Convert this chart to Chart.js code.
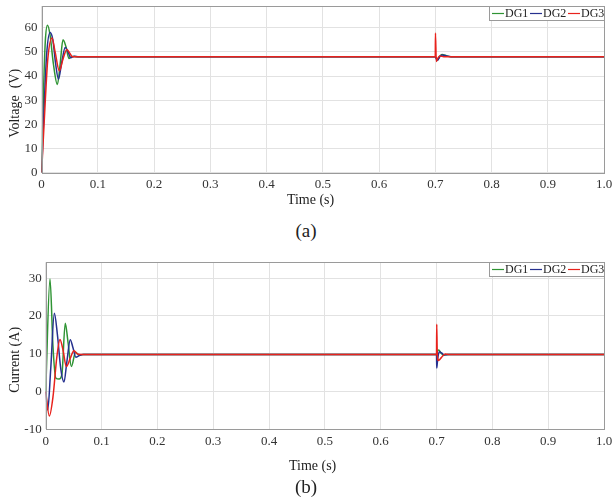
<!DOCTYPE html>
<html>
<head>
<meta charset="utf-8">
<script src="https://cdn.jsdelivr.net/npm/chart.js@4/dist/chart.umd.min.js"></script>
<style>
  body { margin: 0; background: #fff; }
  #wrap { position: relative; width: 616px; height: 499px; }
  canvas { position: absolute; left: 0; }
  .cap { position: absolute; left: 0; width: 616px; text-align: center;
         font-family: 'Liberation Serif', serif; font-size: 19px; line-height: 22px; color: #222; }
</style>
</head>
<body>
<div id="wrap">
  <canvas id="chartVolt" width="616" height="212" style="top:0"></canvas>
  <div class="cap" style="top:220px; left:-2px">(a)</div>
  <canvas id="chartCur" width="616" height="238" style="top:240px"></canvas>
  <div class="cap" style="top:476px; left:-2px">(b)</div>
</div>
<script>
// series names
let seriesNames = ['DG1', 'DG2', 'DG3'];

// (a) voltage, time in s / value in V
let dg1VoltT = [0, 0.003, 0.0065, 0.0105, 0.015, 0.021, 0.028, 0.033, 0.038, 0.0435, 0.0485, 0.054, 0.062, 0.7, 0.7015, 0.704, 0.708, 0.712, 0.72, 0.728, 1.0];
let dg1Volt  = [0, 30, 54, 61, 57, 45, 36.5, 45, 55, 52, 47.3, 48.1, 48, 48, 47.6, 46.8, 48.2, 48.9, 48.4, 48, 48];
let dg2VoltT = [0, 0.005, 0.009, 0.015, 0.02, 0.025, 0.03, 0.036, 0.042, 0.047, 0.052, 0.058, 0.066, 0.7, 0.7015, 0.704, 0.708, 0.712, 0.72, 0.728, 1.0];
let dg2Volt  = [0, 30, 49, 58, 55, 45, 38.7, 46, 51.8, 50, 47.6, 48.2, 48, 48, 47.3, 46.5, 48, 48.7, 48.3, 48, 48];
let dg3VoltT = [0, 0.0066, 0.011, 0.0185, 0.024, 0.0316, 0.038, 0.045, 0.05, 0.055, 0.062, 0.7, 0.7003, 0.7018, 0.704, 0.708, 0.715, 1.0];
let dg3Volt  = [0, 30, 47, 55.8, 50, 42.2, 47, 51, 49.5, 48, 48, 48, 57.8, 46, 47.2, 48.3, 48, 48];

// (b) current, time in s / value in A
let dg1CurT = [0, 0.0077, 0.013, 0.018, 0.024, 0.029, 0.035, 0.04, 0.046, 0.0535, 0.06, 0.068, 0.7, 0.7015, 0.704, 0.708, 0.713, 0.72, 1.0];
let dg1Cur  = [0, 29.8, 12, 3.6, 3.3, 4.5, 18.1, 13, 6.6, 10.4, 9.6, 9.8, 9.8, 10.6, 11, 10.2, 9.6, 9.8, 9.8];
let dg2CurT = [0, 0.0036, 0.009, 0.0155, 0.021, 0.027, 0.0327, 0.038, 0.044, 0.049, 0.054, 0.06, 0.066, 0.7, 0.7004, 0.702, 0.705, 0.709, 0.714, 0.722, 1.0];
let dg2Cur  = [0, -4.9, 6, 20.7, 15, 6, 2.5, 8, 13.7, 11.5, 9.1, 9.5, 9.8, 9.8, 6.2, 8.5, 10.5, 10.2, 9.7, 9.8, 9.8];
let dg3CurT = [0, 0.0065, 0.013, 0.02, 0.0256, 0.031, 0.037, 0.044, 0.0506, 0.056, 0.062, 0.7, 0.7004, 0.7012, 0.703, 0.7066, 0.711, 0.716, 0.722, 1.0];
let dg3Cur  = [0, -6.5, -1.5, 9.2, 13.8, 11, 6.6, 8.8, 10.8, 10, 9.8, 9.8, 17.8, 11, 8.2, 8.6, 9.4, 9.9, 9.8, 9.8];

let colors = ['#2f9434', '#26318f', '#e8221c'];

Chart.defaults.font.family = "'Liberation Serif', 'Times New Roman', serif";
Chart.defaults.color = '#333';

function toPoints(t, v) {
  return t.map((x, i) => ({x: x, y: v[i]}));
}

function makeSets(pairs) {
  return pairs.map((p, i) => ({
    label: seriesNames[i],
    data: toPoints(p[0], p[1]),
    borderColor: colors[i],
    backgroundColor: colors[i],
    borderWidth: 1.5,
    pointRadius: 0,
    cubicInterpolationMode: 'monotone',
    order: 2 - i
  }));
}

// box round the plot, drawn over the lines like matlab
let framePlugin = {
  id: 'frame',
  afterDatasetsDraw(chart) {
    let a = chart.chartArea, ctx = chart.ctx;
    ctx.save();
    ctx.strokeStyle = '#9a9a9a';
    ctx.lineWidth = 1;
    ctx.strokeRect(Math.round(a.left) + 0.5, Math.round(a.top) + 0.5,
      Math.round(a.right - a.left), Math.round(a.bottom - a.top));
    ctx.restore();
  }
};

// small boxed legend in the top right corner
let boxLegend = {
  id: 'boxLegend',
  afterDraw(chart) {
    let a = chart.chartArea, ctx = chart.ctx;
    let w = 115, h = 14;
    let x0 = Math.round(a.right) - w, y0 = Math.round(a.top);
    ctx.save();
    ctx.fillStyle = '#fff';
    ctx.fillRect(x0 + 0.5, y0 + 0.5, w, h);
    ctx.strokeStyle = '#9a9a9a';
    ctx.lineWidth = 1;
    ctx.strokeRect(x0 + 0.5, y0 + 0.5, w, h);
    ctx.font = "12px 'Liberation Serif'";
    ctx.textBaseline = 'middle';
    let x = x0 + 3;
    chart.data.datasets.forEach(ds => {
      ctx.strokeStyle = ds.borderColor;
      ctx.lineWidth = 1.2;
      ctx.beginPath();
      ctx.moveTo(x, y0 + h / 2 + 0.5);
      ctx.lineTo(x + 12, y0 + h / 2 + 0.5);
      ctx.stroke();
      ctx.fillStyle = '#222';
      ctx.fillText(ds.label, x + 13, y0 + h / 2 + 1);
      x += 38;
    });
    ctx.restore();
  }
};

function makeChart(id, sets, yMin, yMax, yTitle, yWidth, xHeight, pad) {
  return new Chart(document.getElementById(id), {
    type: 'line',
    data: { datasets: sets },
    plugins: [framePlugin, boxLegend],
    options: {
      responsive: false,
      animation: false,
      devicePixelRatio: 1,
      layout: { padding: pad },
      plugins: { legend: { display: false }, tooltip: { enabled: false } },
      scales: {
        x: {
          type: 'linear', min: 0, max: 1,
          afterFit: s => { s.height = xHeight; s.paddingLeft = 0; s.paddingRight = 0; },
          grid: { color: '#e2e2e2', drawTicks: false },
          border: { display: false },
          ticks: {
            stepSize: 0.1, padding: 4, maxRotation: 0,
            font: { size: 13 }, color: '#333',
            callback: v => v === 0 ? '0' : v.toFixed(1)
          },
          title: {
            display: true, text: 'Time (s)       ',
            font: { size: 14 }, color: '#222', padding: { top: 0, bottom: 3 }
          }
        },
        y: {
          min: yMin, max: yMax,
          afterFit: s => { s.width = yWidth; s.paddingTop = 0; s.paddingBottom = 0; },
          grid: { color: '#e2e2e2', drawTicks: false },
          border: { display: false },
          ticks: { stepSize: 10, padding: 4, includeBounds: false, font: { size: 13 }, color: '#333' },
          title: {
            display: true, text: yTitle,
            font: { size: 14 }, color: '#222', padding: { top: 6.6, bottom: 0 }
          }
        }
      }
    }
  });
}

let voltChart = makeChart('chartVolt',
  makeSets([[dg1VoltT, dg1Volt], [dg2VoltT, dg2Volt], [dg3VoltT, dg3Volt]]),
  0, 69, 'Voltage  (V)        ', 41.6, 39.3, { top: 6, right: 12, left: 0, bottom: 0 });

let curChart = makeChart('chartCur',
  makeSets([[dg1CurT, dg1Cur], [dg2CurT, dg2Cur], [dg3CurT, dg3Cur]]),
  -10, 34.2, 'Current (A)        ', 45.7, 48.7, { top: 22.3, right: 12, left: 0, bottom: 0 });
</script>
</body>
</html>
